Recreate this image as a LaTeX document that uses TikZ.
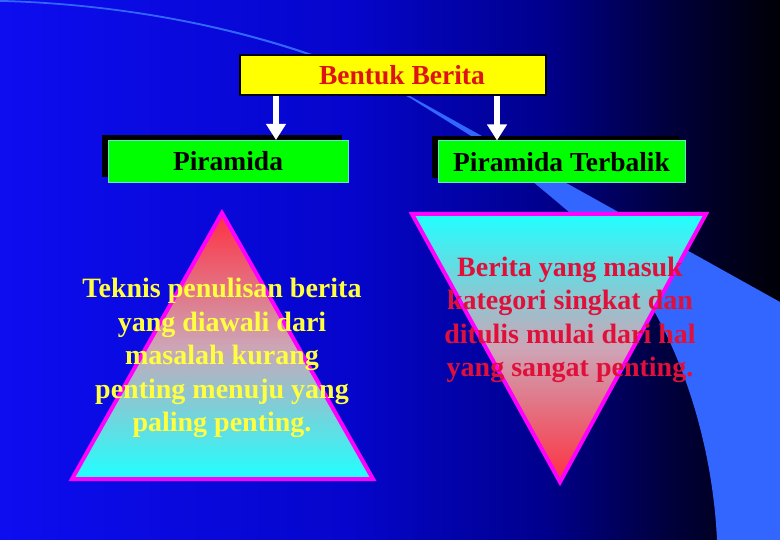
\documentclass[tikz,border=0pt]{standalone}
\usepackage{fontspec}
\setmainfont{Liberation Serif}
\usetikzlibrary{arrows.meta, shadows}

\definecolor{boxyellow}{RGB}{255,255,0}
\definecolor{boxgreen}{RGB}{0,255,0}
\definecolor{titlered}{RGB}{222,20,20}
\definecolor{textred}{RGB}{225,16,58}
\definecolor{textyellow}{RGB}{255,255,64}
\definecolor{pyrred}{RGB}{255,48,64}
\definecolor{pyrmid}{RGB}{205,165,182}
\definecolor{pyrcyan}{RGB}{32,255,255}
\definecolor{pyredge}{RGB}{255,0,255}
\definecolor{swoosh}{RGB}{51,102,255}
\definecolor{edgecyan}{RGB}{100,230,200}

\pgfdeclarehorizontalshading{slidebg}{100bp}{
    rgb(0bp)=(0.05,0.05,0.94);
    rgb(25bp)=(0.05,0.05,0.94);
    rgb(47.5bp)=(0.02,0.02,0.80);
    rgb(60bp)=(0,0,0.55);
    rgb(67.5bp)=(0,0,0.25);
    rgb(75bp)=(0,0,0.02);
    rgb(100bp)=(0,0,0.02)}

\tikzset{
    title/.style={draw=black, line width=1.5pt, fill=boxyellow,
        minimum width=306pt, minimum height=40pt, inner sep=0pt,
        text=titlered, font=\fontsize{27.5}{30}\selectfont\bfseries},
    kind/.style={draw=edgecyan, line width=1pt, fill=boxgreen,
        minimum height=42pt, inner sep=0pt,
        font=\fontsize{27.5}{30}\selectfont\bfseries,
        drop shadow={fill=black, opacity=1, shadow xshift=-6pt, shadow yshift=5pt}},
    down/.style={white, line width=6.5pt, -{Triangle[width=19pt, length=16pt]}},
    pyramid/.style={draw=pyredge, line width=4pt, line join=miter},
    blurb/.style={align=center, font=\fontsize{28}{33.5}\selectfont\bfseries},
}

\begin{document}
\begin{tikzpicture}[x=1pt, y=-1pt]
    \useasboundingbox (0, 0) rectangle (780, 540);
    % background
    \fill [shading=slidebg] (0, 0) rectangle (780, 540);
    \fill [swoosh]
        (0, 0) .. controls (150, 4) and (300, 38) .. (410, 96)
        -- (780, 302) -- (780, 540) -- (717, 540)
        .. controls (712, 430) and (670, 300) .. (590, 230)
        .. controls (540, 187) and (505, 158) .. (476, 139)
        -- (411, 98.5) .. controls (300, 40.5) and (150, 5.5) .. (0, 1.8)
        -- cycle
    ;

    % boxes
    \node [title] (bentuk) at (393, 75) {\hspace*{18pt}Bentuk Berita};
    \node [kind, minimum width=240pt] (pir) at (228, 161.5) {Piramida};
    \node [kind, minimum width=247pt] (pirbalik) at (561.5, 162) {Piramida Terbalik};

    \draw [down] ([xshift=-117pt]bentuk.south) -- ([xshift=-117pt]bentuk.south |- pir.north);
    \draw [down] ([xshift=104pt]bentuk.south) -- ([xshift=104pt]bentuk.south |- pirbalik.north);

    % piramida
    \draw [pyramid, top color=pyrred, bottom color=pyrcyan, middle color=pyrmid]
        (222, 213) -- (373, 479) -- (72, 479) -- cycle;
    \node [blurb, text=textyellow] (pirtext) at (222, 358)
        {Teknis penulisan berita\\yang diawali dari\\masalah kurang\\penting menuju yang\\paling penting.};

    % piramida terbalik
    \draw [pyramid, top color=pyrcyan, bottom color=pyrred, middle color=pyrmid]
        (412, 214) -- (706, 214) -- (560, 482) -- cycle;
    \node [blurb, text=textred] (balitext) at (570, 320)
        {Berita yang masuk\\kategori singkat dan\\ditulis mulai dari hal\\yang sangat penting.};
\end{tikzpicture}
\end{document}
